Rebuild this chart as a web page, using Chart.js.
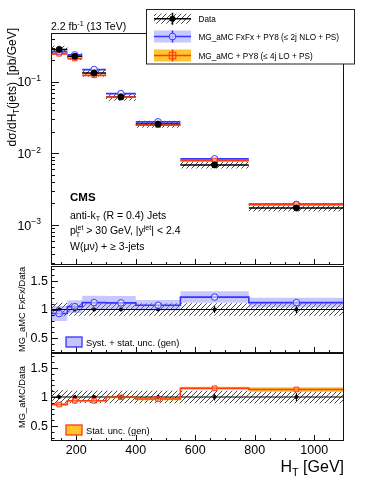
<!DOCTYPE html>
<html>
<head>
<meta charset="utf-8">
<script src="https://cdn.jsdelivr.net/npm/chart.js@4.4.0/dist/chart.umd.min.js"></script>
<style>
  html, body { margin: 0; padding: 0; background: #fff; }
  #wrap { position: relative; width: 374px; height: 484px; }
  canvas { position: absolute; left: 0; }
</style>
</head>
<body>
<div id="wrap">
  <canvas id="mainChart" width="374" height="266" style="top:0"></canvas>
  <canvas id="ratioFxFx" width="374" height="88" style="top:265px"></canvas>
  <canvas id="ratioLO" width="374" height="131" style="top:353px"></canvas>
</div>
<script>
// HT bins (GeV)
const binEdges = [115, 170, 220, 300, 400, 550, 780, 1100];
const xLabels = [200, 400, 600, 800, 1000];

// dsigma/dHT [pb/GeV]
const dataXsec = [0.283, 0.226, 0.132, 0.0612, 0.0257, 0.0069, 0.00173];
const dataSystUnc = [0.12, 0.11, 0.11, 0.11, 0.11, 0.11, 0.11];   // relative, hatched
const dataStatUnc = [0.01, 0.01, 0.01, 0.015, 0.02, 0.06, 0.07];  // relative
const fxfxXsec = [0.263, 0.237, 0.148, 0.0682, 0.0276, 0.0084, 0.00194];
const loXsec = [0.246, 0.211, 0.123, 0.0609, 0.0248, 0.00794, 0.00195];

// ratios MC/Data
const fxfxRatio = [0.93, 1.05, 1.12, 1.115, 1.074, 1.217, 1.12];
const fxfxUnc = [0.13, 0.11, 0.12, 0.12, 0.09, 0.10, 0.085];
const loRatio = [0.87, 0.935, 0.935, 0.995, 0.965, 1.15, 1.13];
const loUnc = [0.02, 0.015, 0.015, 0.015, 0.02, 0.026, 0.04];

const ratioTicks = [0.5, 1, 1.5];

const FONT = '"Liberation Sans", Arial, Helvetica, sans-serif';
const BLUE = '#3535ff';
const RED = '#ff3a10';
const BLUE_BAND = 'rgba(125,125,255,0.42)';
const ORANGE_BAND = '#ffc42e';

const binLo = binEdges.slice(0, -1);
const binHi = binEdges.slice(1);
const binMid = binLo.map((lo, i) => (lo + binHi[i]) / 2);

// histogram step (points on left edges + last right edge)
function stepPts(vals) {
    const p = vals.map((v, i) => ({ x: binEdges[i], y: v }));
    p.push({ x: binEdges[vals.length], y: vals[vals.length - 1] });
    return p;
}
// separate horizontal segments per bin
function segPts(vals) {
    const p = [];
    vals.forEach((v, i) => { p.push({ x: binLo[i], y: v }, { x: binHi[i], y: v }, { x: binHi[i], y: null }); });
    return p;
}
function errPts(vals, rel) {
    const p = [];
    vals.forEach((v, i) => { p.push({ x: binMid[i], y: v * (1 - rel[i]) }, { x: binMid[i], y: v * (1 + rel[i]) }, { x: binMid[i], y: null }); });
    return p;
}
function midPts(vals) { return vals.map((v, i) => ({ x: binMid[i], y: v })); }
function scaled(vals, rel, sign) { return vals.map((v, i) => v * (1 + sign * rel[i])); }

function makeHatch() {
    const c = document.createElement('canvas');
    c.width = 5; c.height = 5;
    const g = c.getContext('2d');
    g.strokeStyle = '#333';
    g.lineWidth = 0.9;
    g.beginPath();
    g.moveTo(0, 5); g.lineTo(5, 0);
    g.moveTo(-1, 1); g.lineTo(1, -1);
    g.moveTo(4, 6); g.lineTo(6, 4);
    g.stroke();
    return g.createPattern(c, 'repeat');
}
const hatch = makeHatch();

// text with sub/superscripts: parts = [[text, mode]] mode 0 normal, 1 sup, -1 sub, or [sup, 2, sub]
function rich(ctx, x, y, parts, size, align, weight) {
    const w8 = weight || 'normal';
    const small = size * 0.68;
    const widths = parts.map(p => {
        if (p[1] === 2) {
            ctx.font = `${small}px ${FONT}`;
            return Math.max(ctx.measureText(p[0]).width, ctx.measureText(p[2]).width);
        }
        ctx.font = `${w8} ${p[1] ? small : size}px ${FONT}`;
        return ctx.measureText(p[0]).width;
    });
    const total = widths.reduce((a, b) => a + b, 0);
    let cx = align === 'right' ? x - total : align === 'center' ? x - total / 2 : x;
    ctx.textAlign = 'left';
    ctx.textBaseline = 'alphabetic';
    parts.forEach((p, i) => {
        if (p[1] === 2) {
            ctx.font = `${small}px ${FONT}`;
            ctx.fillText(p[0], cx, y - size * 0.42);
            ctx.fillText(p[2], cx, y + size * 0.25);
        } else {
            ctx.font = `${w8} ${p[1] ? small : size}px ${FONT}`;
            const dy = p[1] === 1 ? -size * 0.42 : p[1] === -1 ? size * 0.25 : 0;
            ctx.fillText(p[0], cx, y + dy);
        }
        cx += widths[i];
    });
}
function richRot(ctx, x, y, parts, size, align) {
    ctx.save();
    ctx.translate(x, y);
    ctx.rotate(-Math.PI / 2);
    rich(ctx, 0, 0, parts, size, align);
    ctx.restore();
}

// ROOT-like frame with inward ticks
function framePlugin(yMajor, yMinor, yLen) {
    const xMinor = [];
    for (let v = 150; v < binEdges[binEdges.length - 1]; v += 50) if (!xLabels.includes(v)) xMinor.push(v);
    return {
        id: 'rootFrame',
        afterDatasetsDraw(chart) {
            const { ctx, chartArea: a, scales: { x, y } } = chart;
            ctx.save();
            ctx.strokeStyle = '#111';
            ctx.lineWidth = 1;
            ctx.beginPath();
            const tx = (v, len) => { const px = Math.round(x.getPixelForValue(v)) + 0.5; ctx.moveTo(px, a.bottom); ctx.lineTo(px, a.bottom - len); };
            const ty = (v, len) => { const py = Math.round(y.getPixelForValue(v)) + 0.5; ctx.moveTo(a.left, py); ctx.lineTo(a.left + len, py); };
            xLabels.forEach(v => tx(v, 6));
            xMinor.forEach(v => tx(v, 3));
            yMajor.forEach(v => ty(v, yLen));
            yMinor.forEach(v => ty(v, yLen / 2));
            ctx.stroke();
            ctx.strokeRect(a.left + 0.5, a.top + 0.5, a.right - a.left - 1, a.bottom - a.top - 1);
            ctx.restore();
        }
    };
}

function xAxis() {
    return { type: 'linear', min: binEdges[0], max: binEdges[binEdges.length - 1], display: false };
}

function bandSets(upper, lower, color, order, startIdx) {
    return [
        { data: upper, stepped: true, borderWidth: 0, pointRadius: 0, fill: false, order },
        { data: lower, stepped: true, borderWidth: 0, pointRadius: 0, fill: { target: startIdx }, backgroundColor: color, order }
    ];
}

// ---------- main panel ----------
const yMin = 2.77e-4, yMax = 0.479;
const mainMajor = [1e-3, 1e-2, 1e-1];
const mainMinor = [];
[1e-4, 1e-3, 1e-2, 1e-1].forEach(d => { for (let m = 2; m <= 9; m++) { const v = m * d; if (v > yMin && v < yMax) mainMinor.push(v); } });

const mainSets = [
    ...bandSets(stepPts(scaled(dataXsec, dataSystUnc, 1)), stepPts(scaled(dataXsec, dataSystUnc, -1)), hatch, 12, 0),
    ...bandSets(stepPts(scaled(fxfxXsec, fxfxUnc.map(u => u * 0.15), 1)), stepPts(scaled(fxfxXsec, fxfxUnc.map(u => u * 0.15), -1)), BLUE_BAND, 11, 2),
    ...bandSets(stepPts(scaled(loXsec, loUnc, 1)), stepPts(scaled(loXsec, loUnc, -1)), ORANGE_BAND, 10, 4),
    { data: segPts(dataXsec), borderColor: '#000', borderWidth: 1.5, pointRadius: 0, spanGaps: false, order: 5 },
    { data: segPts(fxfxXsec), borderColor: BLUE, borderWidth: 1.8, pointRadius: 0, spanGaps: false, order: 4 },
    { data: segPts(loXsec), borderColor: RED, borderWidth: 1.8, pointRadius: 0, spanGaps: false, order: 3 },
    { data: errPts(dataXsec, dataStatUnc), borderColor: '#000', borderWidth: 1, pointRadius: 0, spanGaps: false, order: 2 },
    { data: midPts(loXsec), showLine: false, pointStyle: 'rect', pointRadius: 3.3, borderColor: RED, borderWidth: 1, backgroundColor: 'rgba(255,160,130,0.4)', order: 1 },
    { data: midPts(fxfxXsec), showLine: false, pointStyle: 'circle', pointRadius: 3.3, borderColor: BLUE, borderWidth: 1, backgroundColor: 'rgba(255,255,255,0.6)', order: 1 },
    { data: midPts(dataXsec), showLine: false, pointStyle: 'circle', pointRadius: 3, borderColor: '#000', backgroundColor: '#000', order: 0 }
];

const mainText = {
    id: 'mainText',
    afterDraw(chart) {
        const ctx = chart.ctx;
        const y = chart.scales.y;
        ctx.save();
        ctx.fillStyle = '#000';
        // y tick labels
        mainMajor.forEach(v => {
            const py = y.getPixelForValue(v);
            rich(ctx, 41, py + 4.5, [['10', 0], ['\u2212' + String(-Math.round(Math.log10(v))), 1]], 12.5, 'right');
        });
        // axis title
        richRot(ctx, 16, 28, [['d\u03c3/dH', 0], ['T', -1], ['(jets)  [pb/GeV]', 0]], 12, 'right');
        // lumi
        rich(ctx, 51, 30, [['2.2 fb', 0], ['-1', 1], [' (13 TeV)', 0]], 10.5, 'left');
        // CMS label block
        rich(ctx, 70, 201, [['CMS', 0]], 11.5, 'left', 'bold');
        rich(ctx, 70, 218.5, [['anti-k', 0], ['T', -1], [' (R = 0.4) Jets', 0]], 10.5, 'left');
        rich(ctx, 70, 234, [['p', 0], ['jet', 2, 'T'], [' > 30 GeV, |y', 0], ['jet', 1], ['| < 2.4', 0]], 10.5, 'left');
        rich(ctx, 70, 250, [['W(\u03bc\u03bd) + \u2265 3-jets', 0]], 10.5, 'left');

        // legend
        const lx = 146.5, ly = 9.5, lw = 208, lh = 54.5;
        ctx.fillStyle = '#fff';
        ctx.fillRect(lx, ly, lw, lh);
        ctx.strokeStyle = '#222';
        ctx.lineWidth = 1;
        ctx.strokeRect(lx, ly, lw, lh);
        const sx0 = 154, sx1 = 191, sxc = 172.5;
        const rows = [18.7, 36.5, 55.5];
        // Data
        ctx.fillStyle = hatch;
        ctx.fillRect(sx0, rows[0] - 5, sx1 - sx0, 10);
        ctx.strokeStyle = '#000'; ctx.lineWidth = 1.5;
        ctx.beginPath(); ctx.moveTo(sx0, rows[0]); ctx.lineTo(sx1, rows[0]); ctx.moveTo(sxc, rows[0] - 6); ctx.lineTo(sxc, rows[0] + 6); ctx.stroke();
        ctx.fillStyle = '#000'; ctx.beginPath(); ctx.arc(sxc, rows[0], 3, 0, Math.PI * 2); ctx.fill();
        // FxFx
        ctx.fillStyle = BLUE_BAND;
        ctx.fillRect(sx0, rows[1] - 6, sx1 - sx0, 12);
        ctx.strokeStyle = BLUE; ctx.lineWidth = 1.5;
        ctx.beginPath(); ctx.moveTo(sx0, rows[1]); ctx.lineTo(sx1, rows[1]); ctx.moveTo(sxc, rows[1] - 6); ctx.lineTo(sxc, rows[1] + 6); ctx.stroke();
        ctx.lineWidth = 1; ctx.fillStyle = 'rgba(255,255,255,0.6)';
        ctx.beginPath(); ctx.arc(sxc, rows[1], 3.3, 0, Math.PI * 2); ctx.fill(); ctx.stroke();
        // LO
        ctx.fillStyle = ORANGE_BAND;
        ctx.fillRect(sx0, rows[2] - 6, sx1 - sx0, 12);
        ctx.strokeStyle = RED; ctx.lineWidth = 1.5;
        ctx.beginPath(); ctx.moveTo(sx0, rows[2]); ctx.lineTo(sx1, rows[2]); ctx.moveTo(sxc, rows[2] - 6); ctx.lineTo(sxc, rows[2] + 6); ctx.stroke();
        ctx.lineWidth = 1;
        ctx.strokeRect(sxc - 3.3, rows[2] - 3.3, 6.6, 6.6);
        ctx.fillStyle = '#000';
        rich(ctx, 198.5, rows[0] + 3, [['Data', 0]], 8.2, 'left');
        rich(ctx, 198.5, rows[1] + 3, [['MG_aMC FxFx + PY8 (\u2264 2j NLO + PS)', 0]], 8.2, 'left');
        rich(ctx, 198.5, rows[2] + 3, [['MG_aMC + PY8 (\u2264 4j LO + PS)', 0]], 8.2, 'left');
        ctx.restore();
    }
};

new Chart(document.getElementById('mainChart'), {
    type: 'line',
    data: { datasets: mainSets },
    options: {
        responsive: false, animation: false, devicePixelRatio: 1,
        layout: { autoPadding: false, padding: { top: 33, bottom: 1, left: 51, right: 30 } },
        plugins: { legend: { display: false }, tooltip: { enabled: false } },
        scales: {
            x: xAxis(),
            y: { type: 'logarithmic', min: yMin, max: yMax, display: false }
        }
    },
    plugins: [framePlugin(mainMajor, mainMinor, 8), mainText]
});

// ---------- ratio panels ----------
const ratioMinor = [];
for (let k = 3; k <= 17; k++) { const v = k / 10; if (!ratioTicks.includes(v)) ratioMinor.push(v); }
const ones = dataXsec.map(() => 1);

function ratioSets(mcRatio, mcUnc, bandColor, lineColor, marker, markerFill) {
    return [
        ...bandSets(stepPts(scaled(ones, dataSystUnc, 1)), stepPts(scaled(ones, dataSystUnc, -1)), hatch, 12, 0),
        ...bandSets(stepPts(mcRatio.map((v, i) => v + mcUnc[i])), stepPts(mcRatio.map((v, i) => v - mcUnc[i])), bandColor, 11, 2),
        { data: [{ x: binEdges[0], y: 1 }, { x: binEdges[binEdges.length - 1], y: 1 }], borderColor: '#000', borderWidth: 1.2, pointRadius: 0, order: 6 },
        { data: stepPts(mcRatio), stepped: true, borderColor: lineColor, borderWidth: 1.6, pointRadius: 0, order: 4 },
        { data: errPts(ones, dataStatUnc), borderColor: '#000', borderWidth: 1, pointRadius: 0, spanGaps: false, order: 3 },
        { data: midPts(ones), showLine: false, pointStyle: 'circle', pointRadius: 1.6, borderColor: '#000', backgroundColor: '#000', order: 2 },
        { data: midPts(mcRatio), showLine: false, pointStyle: marker, pointRadius: 3.3, borderColor: lineColor, borderWidth: 1, backgroundColor: markerFill, order: 1 }
    ];
}

function ratioOptions(padTop, padBottom) {
    return {
        responsive: false, animation: false, devicePixelRatio: 1,
        layout: { autoPadding: false, padding: { top: padTop, bottom: padBottom, left: 51, right: 30 } },
        plugins: { legend: { display: false }, tooltip: { enabled: false } },
        scales: {
            x: xAxis(),
            y: { type: 'linear', min: 0.24, max: 1.76, display: false }
        }
    };
}

function ratioText(title, legendText, fill, stroke, withX) {
    return {
        id: 'ratioText',
        afterDraw(chart) {
            const ctx = chart.ctx, a = chart.chartArea, { x, y } = chart.scales;
            ctx.save();
            ctx.fillStyle = '#000';
            ctx.font = `12.5px ${FONT}`;
            ctx.textAlign = 'right';
            ctx.textBaseline = 'middle';
            ratioTicks.forEach(v => ctx.fillText(String(v), 48, y.getPixelForValue(v) + 0.5));
            if (withX) {
                ctx.textAlign = 'center';
                ctx.textBaseline = 'top';
                xLabels.forEach(v => ctx.fillText(String(v), x.getPixelForValue(v), a.bottom + 3));
                rich(ctx, a.right, a.bottom + 30.5, [['H', 0], ['T', -1], [' [GeV]', 0]], 16, 'right');
            }
            richRot(ctx, 25, (a.top + a.bottom) / 2, [[title, 0]], 9.3, 'center');
            ctx.fillStyle = fill;
            ctx.fillRect(66, a.bottom - 16, 16, 10);
            ctx.strokeStyle = stroke; ctx.lineWidth = 1.3;
            ctx.strokeRect(66, a.bottom - 16, 16, 10);
            ctx.fillStyle = '#000';
            rich(ctx, 86, a.bottom - 7.5, [[legendText, 0]], 9.3, 'left');
            ctx.restore();
        }
    };
}

new Chart(document.getElementById('ratioFxFx'), {
    type: 'line',
    data: { datasets: ratioSets(fxfxRatio, fxfxUnc, BLUE_BAND, BLUE, 'circle', 'rgba(255,255,255,0.5)') },
    options: ratioOptions(1, 0),
    plugins: [framePlugin(ratioTicks, ratioMinor, 7), ratioText('MG_aMC FxFx/Data', 'Syst. + stat. unc. (gen)', 'rgba(125,125,255,0.45)', BLUE, false)]
});

new Chart(document.getElementById('ratioLO'), {
    type: 'line',
    data: { datasets: ratioSets(loRatio, loUnc, ORANGE_BAND, RED, 'rect', 'rgba(255,160,130,0.5)') },
    options: ratioOptions(0, 43),
    plugins: [framePlugin(ratioTicks, ratioMinor, 7), ratioText('MG_aMC/Data', 'Stat. unc. (gen)', ORANGE_BAND, RED, true)]
});
</script>
</body>
</html>
